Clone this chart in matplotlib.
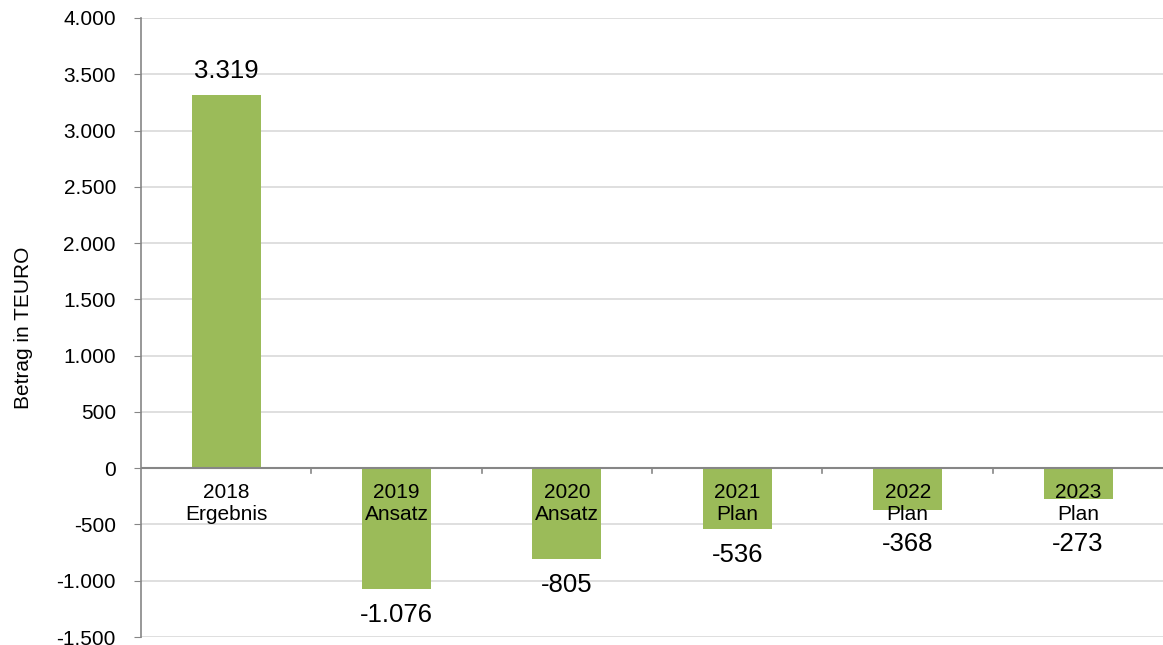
import matplotlib.pyplot as plt
from matplotlib.ticker import FuncFormatter, MultipleLocator

plt.rcParams['font.family'] = ['Liberation Sans', 'DejaVu Sans']

jahre = ["2018", "2019", "2020", "2021", "2022", "2023"]
arten = ["Ergebnis", "Ansatz", "Ansatz", "Plan", "Plan", "Plan"]
betraege = [3319, -1076, -805, -536, -368, -273]


def de_zahl(v, pos=None):
    # Tausenderpunkt statt Komma
    return f"{int(round(v)):,}".replace(",", ".")


fig = plt.figure(figsize=(11.63, 6.45), dpi=100)
ax = fig.add_axes([0.1212, 0.0124, 0.879, 0.9597])

x = list(range(len(jahre)))
ax.bar(x, betraege, width=0.405, color="#9BBB59", zorder=2)

ax.set_xlim(-0.5, len(jahre) - 0.5)
ax.set_ylim(-1500, 4000)
ax.yaxis.set_major_locator(MultipleLocator(500))
ax.yaxis.set_major_formatter(FuncFormatter(de_zahl))
ax.grid(axis="y", color="#D9D9D9", linewidth=1.2, zorder=0)

for s in ["top", "right", "bottom"]:
    ax.spines[s].set_visible(False)
ax.spines["left"].set_color("#868686")
ax.spines["left"].set_linewidth(1.2)
ax.axhline(0, color="#868686", linewidth=1.5, zorder=3)

ax.tick_params(axis="y", length=5, color="#868686", labelsize=15, pad=13)
ax.set_xticks([])

# kleine Trennstriche zwischen den Kategorien auf der Nulllinie
for b in [i + 0.5 for i in range(len(jahre) - 1)]:
    ax.plot([b, b], [0, -45], color="#868686", linewidth=1.2, zorder=3,
            clip_on=False)

for i, (j, a, v) in enumerate(zip(jahre, arten, betraege)):
    ax.annotate(j + "\n" + a, (i, 0), xytext=(0, -11), textcoords="offset points",
                ha="center", va="top", fontsize=15, linespacing=1.2, zorder=4)
    if v >= 0:
        ax.annotate(de_zahl(v), (i, v), xytext=(0, 12), textcoords="offset points",
                    ha="center", va="baseline", fontsize=18.5, zorder=4)
    else:
        # Beschriftung unterhalb des Balkens, aber nicht in die Kategorie hinein
        ax.text(i, min(v - 125, -570), de_zahl(v), ha="center", va="top",
                fontsize=18.5, zorder=4)

ax.set_ylabel("Betrag in TEURO", fontsize=15)
ax.yaxis.set_label_coords(-0.106, 0.5)

fig.savefig("out.png", dpi=100)
